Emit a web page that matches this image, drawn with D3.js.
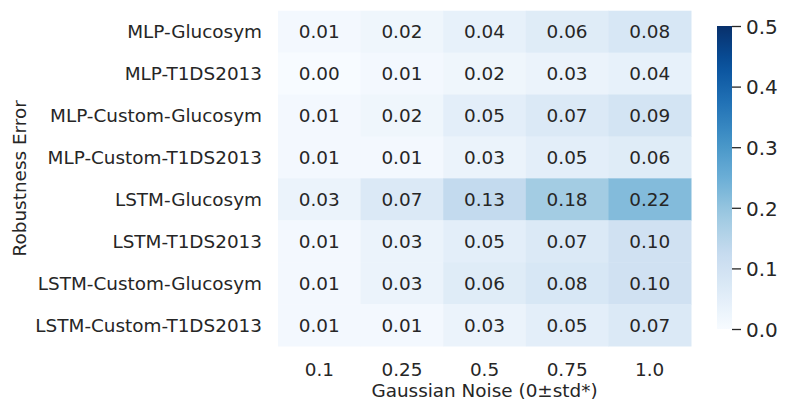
<!DOCTYPE html>
<html><head><meta charset="utf-8">
<script src="https://cdn.jsdelivr.net/npm/d3@7"></script>
<style>body{margin:0;background:#fff}svg{display:block}text{font-family:"DejaVu Sans",sans-serif;fill:#262626}</style>
</head><body>
<script>
const models = ["MLP-Glucosym","MLP-T1DS2013","MLP-Custom-Glucosym","MLP-Custom-T1DS2013","LSTM-Glucosym","LSTM-T1DS2013","LSTM-Custom-Glucosym","LSTM-Custom-T1DS2013"];
const noiseLevels = ["0.1","0.25","0.5","0.75","1.0"];
const errMLPGlucosym = [0.01,0.02,0.04,0.06,0.08];
const errMLPT1DS = [0.00,0.01,0.02,0.03,0.04];
const errMLPCustomGlucosym = [0.01,0.02,0.05,0.07,0.09];
const errMLPCustomT1DS = [0.01,0.01,0.03,0.05,0.06];
const errLSTMGlucosym = [0.03,0.07,0.13,0.18,0.22];
const errLSTMT1DS = [0.01,0.03,0.05,0.07,0.10];
const errLSTMCustomGlucosym = [0.01,0.03,0.06,0.08,0.10];
const errLSTMCustomT1DS = [0.01,0.01,0.03,0.05,0.07];
const colorbarTicks = [0.0,0.1,0.2,0.3,0.4,0.5];
const rowsData = [errMLPGlucosym,errMLPT1DS,errMLPCustomGlucosym,errMLPCustomT1DS,errLSTMGlucosym,errLSTMT1DS,errLSTMCustomGlucosym,errLSTMCustomT1DS];

const W=790,H=414;
const FS="18.4px";
const svg=d3.select("body").append("svg").attr("width",W).attr("height",H);
const pLeft=278,pRight=691,pTop=10.7,pBottom=346;
const x=d3.scaleBand().domain(noiseLevels).range([pLeft,pRight]);
const y=d3.scaleBand().domain(models).range([pTop,pBottom]);
// matplotlib Blues (linear between ColorBrewer stops)
const bluesStops=["#f7fbff","#deebf7","#c6dbef","#9ecae1","#6baed6","#4292c6","#2171b5","#08519c","#08306b"];
const blues=d3.scaleLinear().domain(d3.range(9).map(i=>i/8)).range(bluesStops).interpolate(d3.interpolateRgb).clamp(true);
const vmin=0,vmax=0.5;
const color=v=>blues((v-vmin)/(vmax-vmin));

const cells=[];
models.forEach((m,i)=>noiseLevels.forEach((n,j)=>cells.push({m,n,v:rowsData[i][j]})));
svg.append("g").selectAll("rect").data(cells).join("rect")
  .attr("x",d=>x(d.n)).attr("y",d=>y(d.m)).attr("width",x.bandwidth()+0.5).attr("height",y.bandwidth()+0.5)
  .attr("fill",d=>color(d.v));
svg.append("g").selectAll("text").data(cells).join("text")
  .attr("x",d=>x(d.n)+x.bandwidth()/2).attr("y",d=>y(d.m)+y.bandwidth()/2+6.7)
  .attr("text-anchor","middle").style("font-size",FS)
  .text(d=>d.v.toFixed(2));

// axes
const yAxis=svg.append("g").attr("transform",`translate(${pLeft},0)`).call(d3.axisLeft(y).tickSize(0).tickPadding(16));
yAxis.select(".domain").remove();
yAxis.selectAll("text").attr("dy",null).attr("y",6.7).style("font-size",FS).attr("fill","#262626");
const xAxis=svg.append("g").attr("transform",`translate(0,${pBottom})`).call(d3.axisBottom(x).tickSize(0));
xAxis.select(".domain").remove();
xAxis.selectAll("text").attr("dy",null).attr("y",30).style("font-size",FS).attr("fill","#262626");

svg.append("text").attr("x",(pLeft+pRight)/2).attr("y",397).attr("text-anchor","middle").style("font-size",FS).text("Gaussian Noise (0±std*)");
svg.append("text").attr("transform",`translate(25.5,${(pTop+pBottom)/2}) rotate(-90)`).attr("text-anchor","middle").style("font-size",FS).text("Robustness Error");

// colorbar
const cbx=717,cbw=15,cbTop=26,cbBot=329;
const cy=d3.scaleLinear().domain([vmin,vmax]).range([cbBot,cbTop]);
const defs=svg.append("defs");
const grad=defs.append("linearGradient").attr("id","cb").attr("x1",0).attr("y1",1).attr("x2",0).attr("y2",0);
d3.range(0,1.0001,0.05).forEach(t=>grad.append("stop").attr("offset",t).attr("stop-color",blues(t)));
svg.append("rect").attr("x",cbx).attr("y",cbTop).attr("width",cbw).attr("height",cbBot-cbTop).attr("fill","url(#cb)");
const cAxis=svg.append("g").attr("transform",`translate(${cbx+cbw},0)`).call(d3.axisRight(cy).tickValues(colorbarTicks).tickFormat(d3.format(".1f")).tickSize(9).tickPadding(5));
cAxis.select(".domain").remove();
cAxis.selectAll("line").attr("stroke","#262626").attr("stroke-width",1.3);
cAxis.selectAll("text").attr("dy",null).attr("y",7.2).style("font-size","20px").attr("fill","#262626");
</script>
</body></html>
